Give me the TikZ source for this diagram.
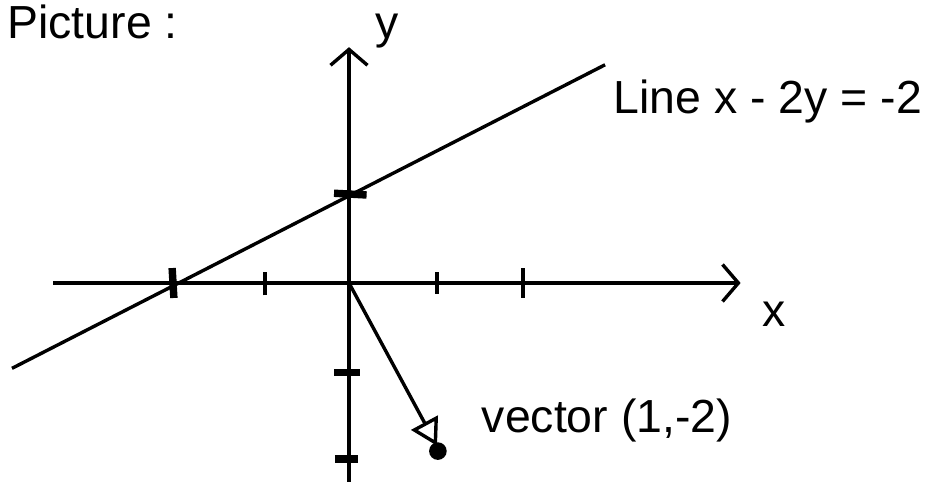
\documentclass[tikz,border=0pt]{standalone}
\usepackage{fontspec}
\setmainfont{Liberation Sans}
\usetikzlibrary{arrows.meta}

\begin{document}
\begin{tikzpicture}[line width=1.1pt,
        axis/.style={-{Straight Barb[length=1.8mm,width=4.2mm]}},
        tick/.style={line width=1.3pt},
        bigtick/.style={line width=2.4pt},
        lbl/.style={font=\fontsize{15}{17}\selectfont, inner sep=0pt}]
        \useasboundingbox (-3.966,-2.25) rectangle (6.727,3.216);

        \coordinate (O) at (0,0);
        \coordinate (XL) at (-3.36,0);
        \coordinate (XR) at (4.45,0);
        \coordinate (YB) at (0,-2.4);
        \coordinate (YT) at (0,2.68);
        \coordinate (L1) at (-3.83,-0.97);
        \coordinate (L2) at (2.91,2.48);
        \coordinate (V) at (1,-1.85);
        \node[circle,fill,inner sep=0pt,minimum size=2mm] (Vdot) at (1.01,-1.91) {};

        \node[lbl, anchor=base west] (P) at (-3.9,2.78) {Picture :};
        \node[lbl] (Ylbl) at (0.43,2.86) {y};
        \node[lbl] (Xlbl) at (4.83,-0.36) {x};
        \node[lbl, anchor=base west] (Llbl) at (2.99,1.93) {Line x - 2y = -2};
        \node[lbl, anchor=base west] (Vlbl) at (1.49,-1.7) {vector (1,-2)};

        \draw[axis] (XL) -- (XR);
        \draw[axis] (YB) -- (YT);
        \draw (L1) -- (L2);
        \draw[-{Triangle[open,fill=white,length=3mm,width=3.4mm]}] (O) -- (V);

        % ticks
        \draw[bigtick] (-1.99,-0.17) -- (-2.01,0.17);
        \draw[tick] (-0.96,-0.14) -- (-0.96,0.12);
        \draw[tick] (1,-0.12) -- (1,0.13);
        \draw[tick] (1.98,-0.17) -- (1.98,0.17);
        \draw[bigtick] (-0.17,1.02) -- (0.2,1);
        \draw[bigtick] (-0.17,-1.02) -- (0.13,-1.02);
        \draw[bigtick] (-0.16,-2.0) -- (0.1,-2.0);
\end{tikzpicture}
\end{document}
